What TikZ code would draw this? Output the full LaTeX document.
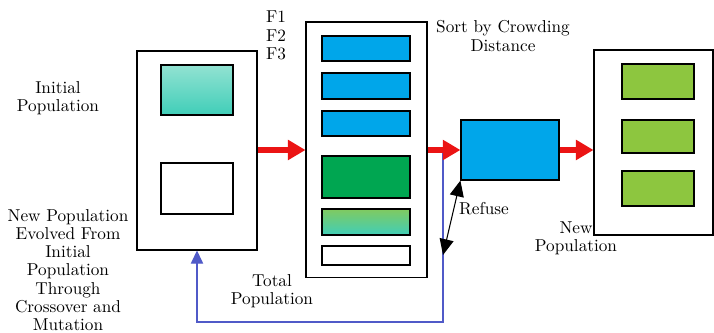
\documentclass[tikz,border=0pt]{standalone}
\usepackage{tikz}
\usetikzlibrary{arrows.meta, positioning, calc, shadings}
\definecolor{popblue}{RGB}{0,166,234}
\definecolor{popdarkgreen}{RGB}{0,166,81}
\definecolor{poplightgreen}{RGB}{141,198,63}
\definecolor{popteal}{RGB}{64,206,184}
\definecolor{poptealtop}{RGB}{146,226,210}
\definecolor{popmixtop}{RGB}{128,202,96}
\definecolor{feedblue}{RGB}{80,90,200}
\definecolor{flowred}{RGB}{235,20,20}

\begin{document}
\begin{tikzpicture}[
    x=0.02cm, y=-0.02cm,
    every node/.style={font=\fontsize{9.8}{10.4}\selectfont},
    outerbox/.style={draw, line width=0.6pt, fill=white, inner sep=0pt},
    bar/.style={draw, line width=0.7pt, inner sep=0pt, minimum width=1.76cm},
    member/.style={draw, line width=0.7pt, inner sep=0pt, minimum width=1.44cm},
    label/.style={align=center, inner sep=0pt},
    flow/.style={-{Triangle[length=10pt, width=11pt]}, line width=3.6pt, flowred},
    feedback/.style={-{Triangle[length=7.5pt, width=7pt]}, line width=0.7pt, feedblue},
    refuse/.style={{Triangle[length=9pt, width=8pt]}-{Triangle[length=9pt, width=8pt]}, line width=0.6pt, black}
]
    \useasboundingbox (0,0) rectangle (714,333);

    % Initial population
    \node[outerbox, minimum width=2.4cm, minimum height=3.98cm] (initbox) at (197,150.5) {};
    \node[member, minimum height=1cm, top color=poptealtop, bottom color=popteal] (initpop) at (197,90) {};
    \node[member, minimum height=1.02cm, fill=white] (newpop) at (197,188.5) {};

    % Total population
    \node[outerbox, minimum width=2.42cm, minimum height=5.12cm] (total) at (366.5,150) {};
    \node[bar, minimum height=0.5cm, fill=popblue] (fone) at (366,48.5) {};
    \node[bar, minimum height=0.52cm, fill=popblue] (ftwo) at (366,86) {};
    \node[bar, minimum height=0.5cm, fill=popblue] (fthree) at (366,123.5) {};
    \node[bar, minimum height=0.84cm, fill=popdarkgreen] (ffour) at (366,177) {};
    \node[bar, minimum height=0.52cm, top color=popmixtop, bottom color=popteal] (ffive) at (366,222) {};
    \node[bar, minimum height=0.38cm, fill=white] (fsix) at (366,255.5) {};

    % Sort by crowding distance
    \node[draw, line width=0.7pt, fill=popblue, inner sep=0pt, minimum width=1.96cm, minimum height=1.2cm] (sort) at (510,150) {};

    % New population
    \node[outerbox, minimum width=2.38cm, minimum height=3.7cm] (newbox) at (653.5,142.5) {};
    \node[member, minimum height=0.7cm, fill=poplightgreen] (gone) at (658,81.5) {};
    \node[member, minimum height=0.66cm, fill=poplightgreen] (gtwo) at (658,136.5) {};
    \node[member, minimum height=0.7cm, fill=poplightgreen] (gthree) at (658,188.5) {};

    % Feedback and refuse
    \coordinate (split) at (443,150);
    \coordinate (refusept) at (443,255);
    \draw[feedback] (split) -- (443,322) -| (initbox.south);
    \draw[refuse] (sort.south west) -- (refusept);

    % Flow arrows
    \draw[flow] (initbox.east |- total.west) -- (total.west);
    \draw[flow] (total.east) -- (sort.west);
    \draw[flow] (sort.east) -- (sort.east -| newbox.west);

    % Labels
    \node[label] (initlbl) at (58,98) {Initial\\Population};
    \node[label] (newlbl) at (68,270) {New Population\\Evolved From\\Initial\\Population\\Through\\Crossover and\\Mutation};
    \node[label] (flbl) at (276,35.5) {F1\\F2\\F3};
    \node[label] (totallbl) at (272,291.5) {Total\\Population};
    \node[label] (sortlbl) at (503,36) {Sort by Crowding\\Distance};
    \node[label] (refuselbl) at (484,209) {Refuse};
    \node[label] (newpoplbl) at (576,238.5) {New\\Population};
\end{tikzpicture}
\end{document}
